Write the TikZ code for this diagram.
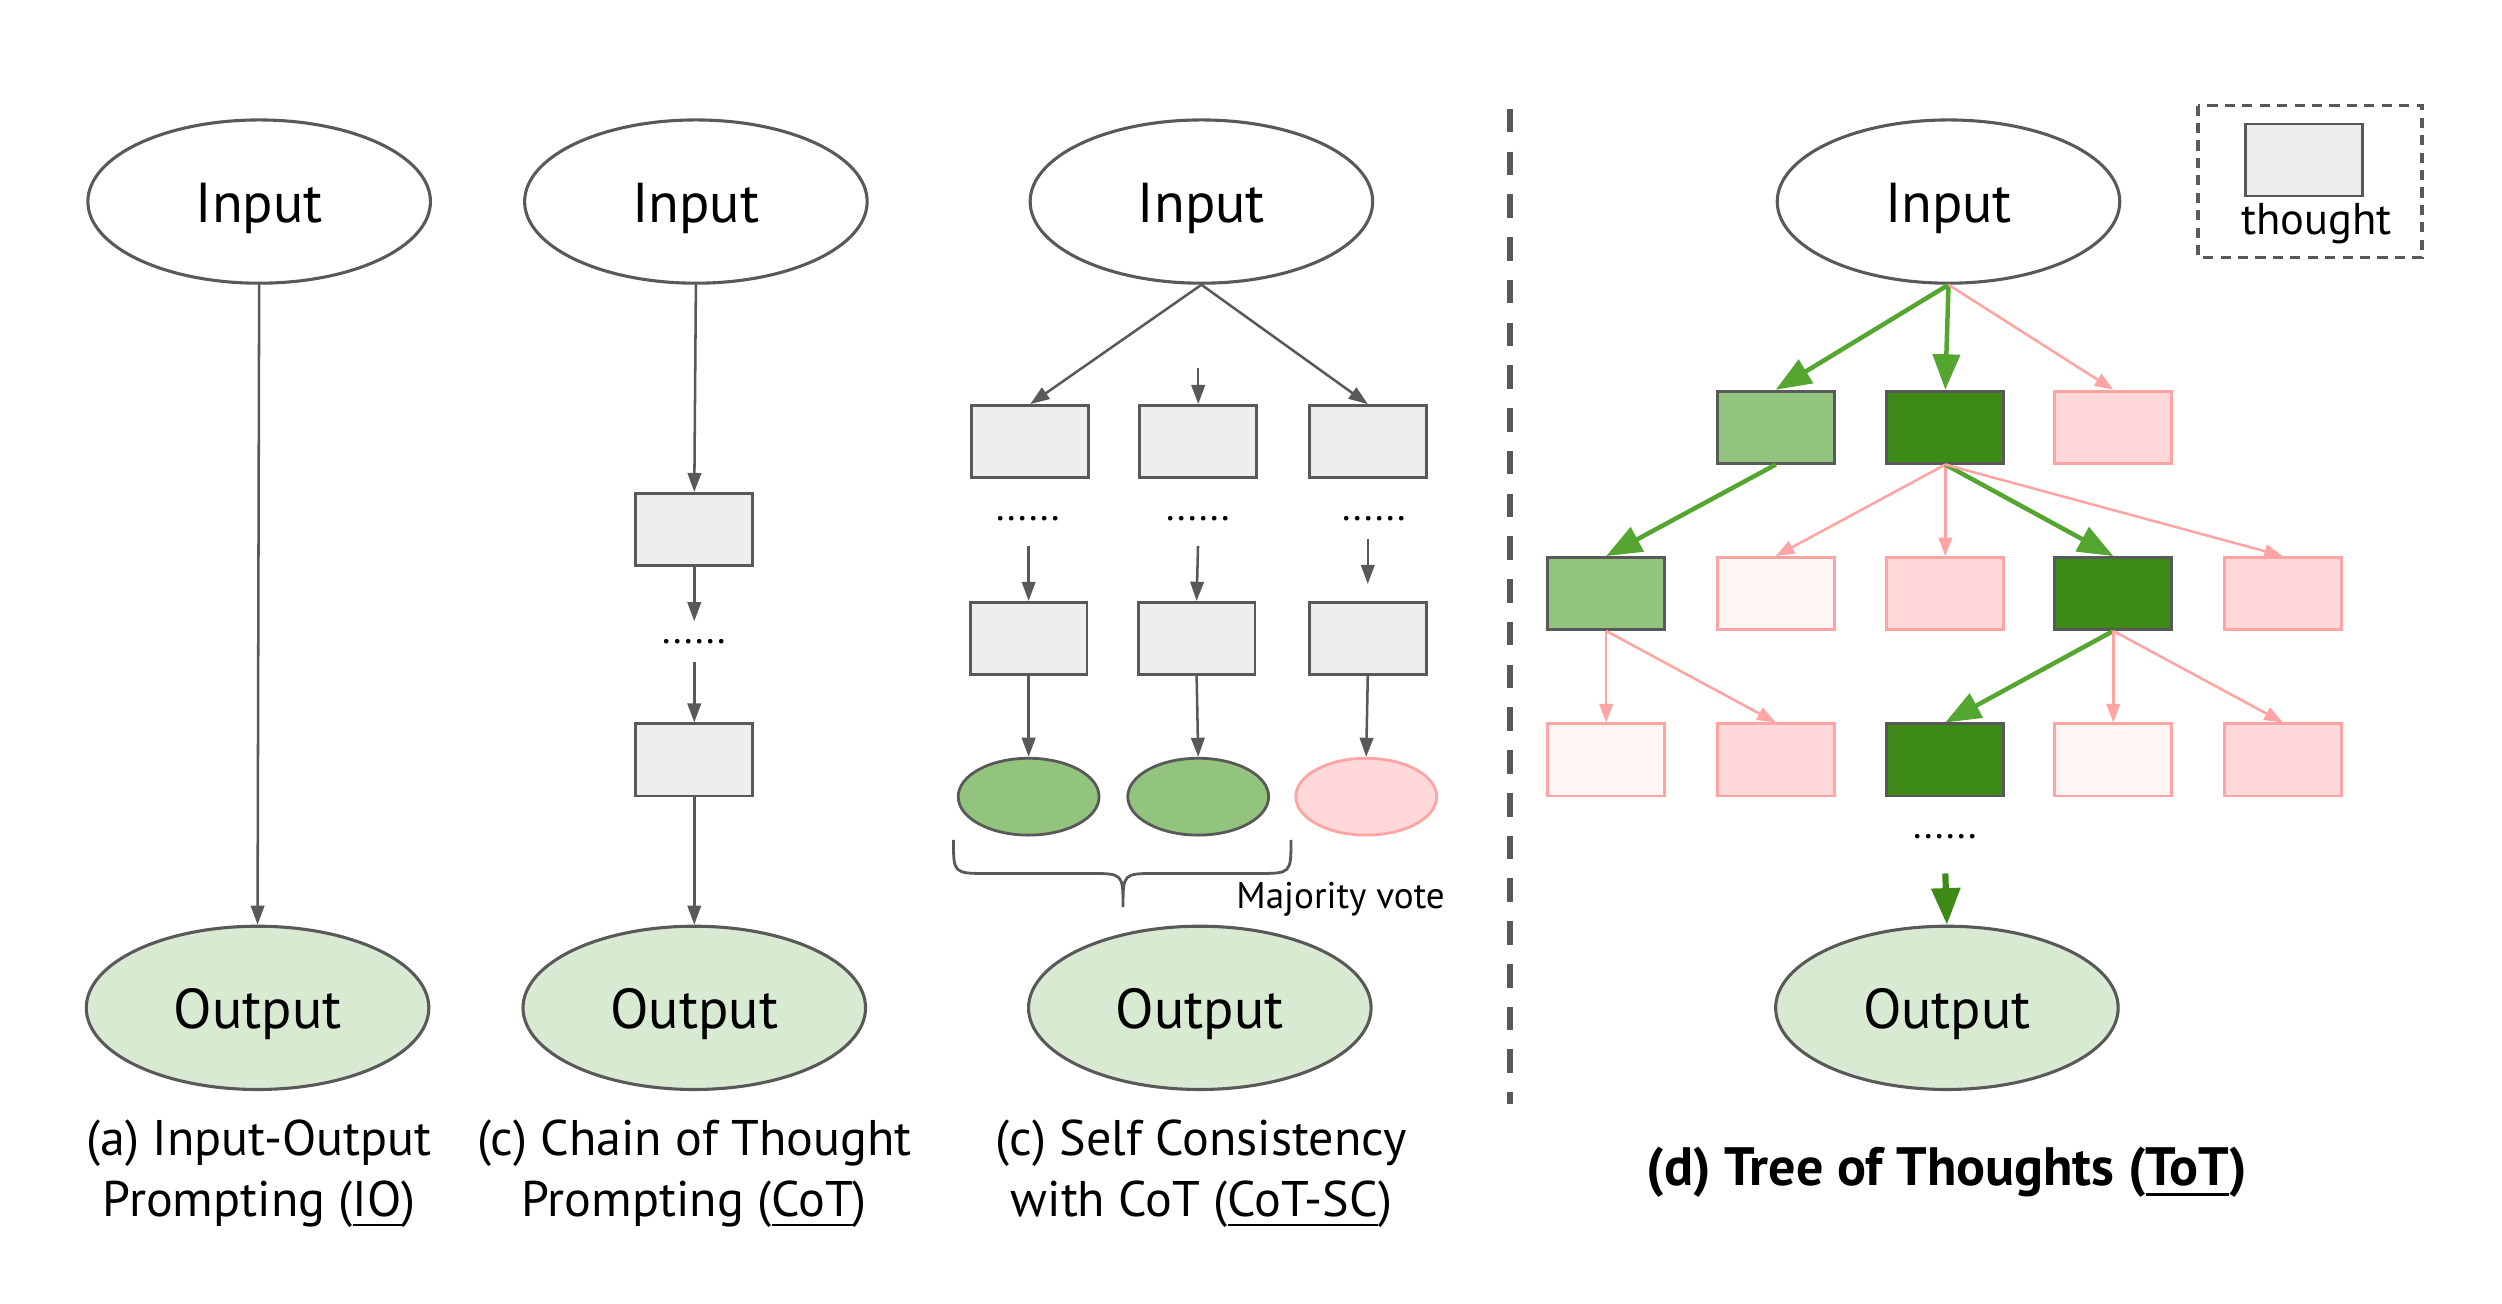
\documentclass[tikz,border=0pt]{standalone}
\usepackage{fontspec}
\setmainfont{PT Sans}
\usepackage{xcolor}
\usetikzlibrary{arrows.meta,shapes,positioning,calc}

\definecolor{linegray}{HTML}{595959}
\definecolor{thoughtgray}{HTML}{EEEEEE}
\definecolor{outgreen}{HTML}{D9EAD3}
\definecolor{lightgreen}{HTML}{93C47D}
\definecolor{darkgreen}{HTML}{3E8A17}
\definecolor{pathgreen}{HTML}{55A630}
\definecolor{badpink}{HTML}{FFA3A3}
\definecolor{badfill}{HTML}{FFD9D9}
\definecolor{palefill}{HTML}{FFF5F5}

\tikzset{
  io/.style={ellipse, draw=linegray, line width=0.55pt, minimum width=2.14cm,
    minimum height=1.02cm, inner sep=0pt, text height=0.74em, text depth=0pt,
    font=\fontsize{10}{12}\selectfont},
  inp/.style={io, fill=white},
  outp/.style={io, fill=outgreen},
  thought/.style={rectangle, draw=linegray, line width=0.5pt, fill=thoughtgray,
    minimum width=0.73cm, minimum height=0.45cm, inner sep=0pt},
  good/.style={thought, fill=lightgreen},
  best/.style={thought, fill=darkgreen},
  bad/.style={thought, draw=badpink, fill=badfill},
  pale/.style={thought, draw=badpink, fill=palefill},
  answer/.style={ellipse, draw=linegray, line width=0.5pt, minimum width=0.88cm,
    minimum height=0.48cm, inner sep=0pt},
  etc/.style={inner sep=3pt, font=\fontsize{7}{8}\selectfont},
  garrow/.style={draw=linegray, line width=0.45pt, -{Triangle[length=3.4pt,width=2.4pt]}},
  parrow/.style={draw=badpink, line width=0.45pt, -{Triangle[length=3.3pt,width=2.4pt]}},
  yarrow/.style={draw=pathgreen, line width=0.8pt, -{Triangle[length=6.3pt,width=4.8pt]}},
  caption/.style={align=center, font=\fontsize{8.9}{10.8}\selectfont},
  sepline/.style={draw=linegray, line width=1.1pt, dash pattern=on 4.2pt off 3.4pt},
  legendbox/.style={draw=linegray, line width=0.6pt, dash pattern=on 1.8pt off 1.3pt},
}

\begin{document}
\begin{tikzpicture}[x=0.01cm, y=-0.01cm]
\useasboundingbox (0,0) rectangle (1564,815);

% (a) IO prompting
\node[inp] (inA) at (162,126) {Input};
\node[outp] (outA) at (161,630) {Output};
\draw[garrow] (inA.south) -- (outA.north);
\node[caption] (capA) at (162,734) {(a) Input-Output\\Prompting (\underline{IO})};

% (b) chain of thought
\node[inp] (inB) at (435,126) {Input};
\node[thought] (b1) at (434,331) {};
\node[etc] (bdots) at (434,401) {......};
\node[thought] (b2) at (434,475) {};
\node[outp] (outB) at (434,630) {Output};
\draw[garrow] (inB.south) -- (b1.north);
\draw[garrow] (b1.south) -- (bdots.north);
\draw[garrow] (bdots.south) -- (b2.north);
\draw[garrow] (b2.south) -- (outB.north);
\node[caption] (capB) at (434,734) {(c) Chain of Thought\\Prompting (\underline{CoT})};

% (c) self consistency
\node[inp] (inC) at (751,126) {Input};
\node[thought] (c1) at (644,276) {};
\node[thought] (c2) at (749,276) {};
\node[thought] (c3) at (855,276) {};
\coordinate (cmid) at (749,230);
\draw[garrow] (inC.south) -- (c1.north);
\draw[garrow] (cmid) -- (c2.north);
\draw[garrow] (inC.south) -- (c3.north);
\node[etc] (cd1) at (643,324) {......};
\node[etc] (cd2) at (749,324) {......};
\node[etc] (cd3) at (859,324) {......};
\node[thought] (c4) at (643,399) {};
\node[thought] (c5) at (748,399) {};
\node[thought] (c6) at (855,399) {};
\draw[garrow, shorten <=1.3pt] (cd1.south) -- (c4.north);
\draw[garrow, shorten <=1.3pt] (cd2.south) -- (c5.north);
\draw[garrow, shorten >=3pt] (cd3.south -| c6) -- (c6.north);
\node[answer, fill=lightgreen] (a1) at (643,498) {};
\node[answer, fill=lightgreen] (a2) at (749,498) {};
\node[answer, draw=badpink, fill=badfill] (a3) at (854,498) {};
\draw[garrow] (c4.south) -- (a1.north);
\draw[garrow] (c5.south) -- (a2.north);
\draw[garrow] (c6.south) -- (a3.north);
% brace under the answers
\draw[linegray, line width=0.5pt] (596,525) .. controls (596,546) .. (617,546) -- (681,546)
  .. controls (702,546) .. (702,567) .. controls (702,546) .. (723,546) -- (786,546)
  .. controls (807,546) .. (807,525);
\node[font=\fontsize{6.6}{8}\selectfont] (vote) at (838,562) {Majority vote};
\node[outp] (outC) at (750,630) {Output};
\node[caption] (capC) at (751,734) {(c) Self Consistency\\with CoT (\underline{CoT-SC})};

% separator
\draw[sepline] (944,68) -- (944,690);

% legend
\draw[legendbox] (1374,66) rectangle (1514,161);
\node[thought] (legbox) at (1440,100) {};
\node[font=\fontsize{7.9}{9}\selectfont] (legtext) at (1448,140) {thought};

% (d) tree of thoughts
\node[inp] (inD) at (1218,126) {Input};
\node[good] (t11) at (1110,267) {};
\node[best] (t12) at (1216,267) {};
\node[bad] (t13) at (1321,267) {};
\node[good] (t21) at (1004,371) {};
\node[pale] (t22) at (1110,371) {};
\node[bad] (t23) at (1216,371) {};
\node[best] (t24) at (1321,371) {};
\node[bad] (t25) at (1427,371) {};
\node[pale] (t31) at (1004,475) {};
\node[bad] (t32) at (1110,475) {};
\node[best] (t33) at (1216,475) {};
\node[pale] (t34) at (1321,475) {};
\node[bad] (t35) at (1427,475) {};
\draw[yarrow] (inD.south) -- (t11.north);
\draw[yarrow] (inD.south) -- (t12.north);
\draw[parrow] (inD.south) -- (t13.north);
\draw[yarrow] (t11.south) -- (t21.north);
\draw[parrow] (t12.south) -- (t22.north);
\draw[parrow] (t12.south) -- (t23.north);
\draw[yarrow] (t12.south) -- (t24.north);
\draw[parrow] (t12.south) -- (t25.north);
\draw[parrow] (t21.south) -- (t31.north);
\draw[parrow] (t21.south) -- (t32.north);
\draw[yarrow] (t24.south) -- (t33.north);
\draw[parrow] (t24.south) -- (t34.north);
\draw[parrow] (t24.south) -- (t35.north);
\node[etc] (ddots) at (1216,523) {......};
\coordinate (dlast) at (1216,546);
\node[outp] (outD) at (1217,630) {Output};
\draw[draw=darkgreen, line width=1.1pt, -{Triangle[length=6.5pt,width=5pt]}] (dlast) -- (outD.north);
\node[font=\bfseries\fontsize{9.6}{11}\selectfont] (capD) at (1217,733) {(d) Tree of Thoughts (\underline{ToT})};
\end{tikzpicture}
\end{document}
